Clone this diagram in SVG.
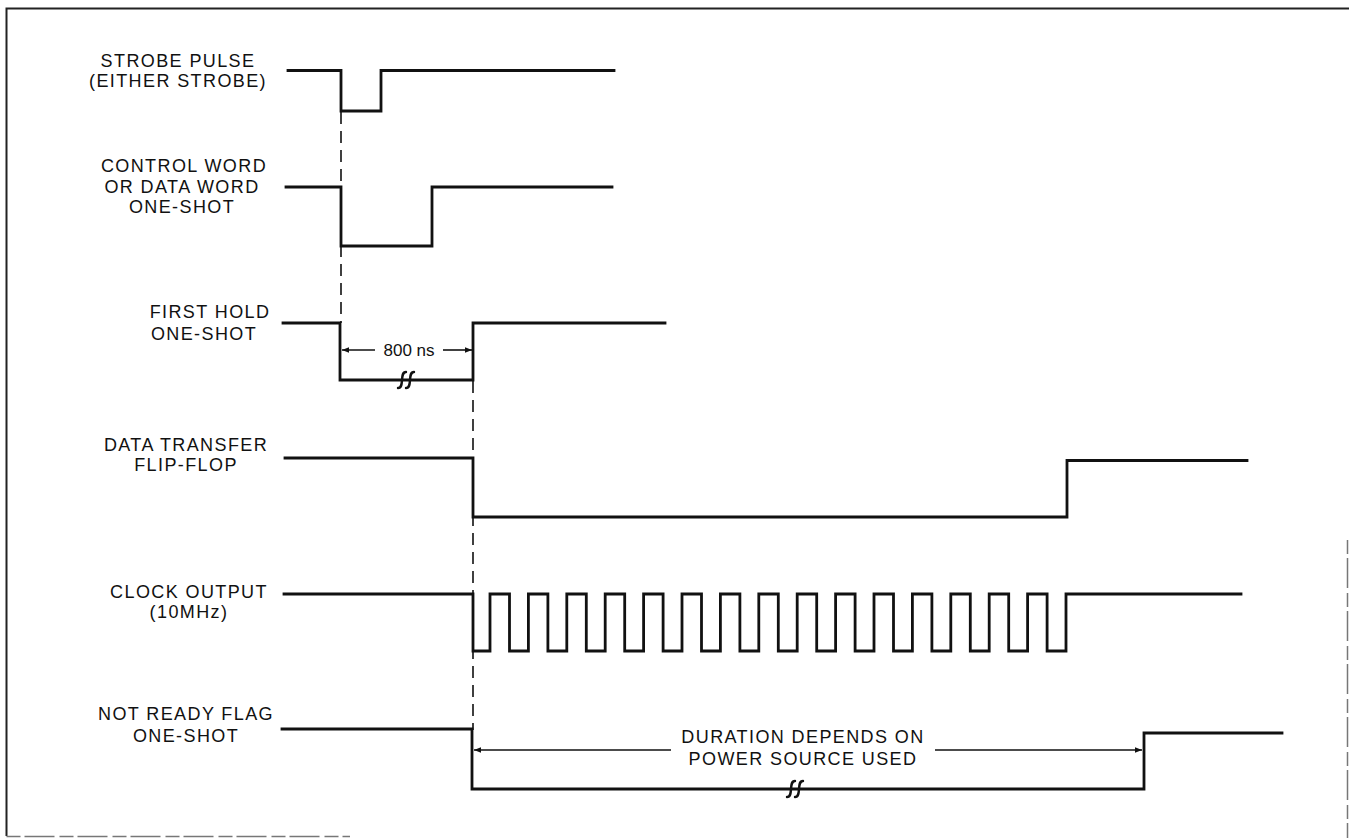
<svg xmlns="http://www.w3.org/2000/svg" width="1349" height="838" viewBox="0 0 1349 838">
<defs>
<style>
.bg{fill:#fff}
.frame{fill:none;stroke:#222;stroke-width:2}
.frame2{fill:none;stroke:#777;stroke-width:1.5;stroke-dasharray:14 4 30 5}
.wave{fill:none;stroke:#111;stroke-width:2.8;stroke-linejoin:miter;stroke-linecap:square}
.dash{fill:none;stroke:#111;stroke-width:1.6;stroke-dasharray:12 7}
.dim{fill:none;stroke:#111;stroke-width:1.6}
.brk{fill:none;stroke:#111;stroke-width:2.4;stroke-linecap:round}
.lbl{font-family:"Liberation Sans",Arial,sans-serif;font-size:18px;letter-spacing:1.4px;fill:#111;text-anchor:middle}
.dimt{font-family:"Liberation Sans",Arial,sans-serif;font-size:17px;fill:#111;text-anchor:middle}
</style>
<marker id="ah" viewBox="0 0 10 10" refX="10" refY="5" markerWidth="7" markerHeight="7" markerUnits="userSpaceOnUse" orient="auto-start-reverse">
<path d="M0,1 L10,5 L0,9 Z" fill="#111"/>
</marker>
</defs>
<rect class="bg" x="0" y="0" width="1349" height="838"/>
<g id="frame">
<path class="frame" d="M6.5,836 V8.5 H1349"/>
<path class="frame2" d="M1347.5,540 V838"/>
<path class="frame2" d="M6.5,836.5 H350"/>
</g>
<g id="strobe">
<text class="lbl" x="178" y="67">STROBE PULSE</text>
<text class="lbl" x="178" y="87">(EITHER STROBE)</text>
<path class="wave" d="M288,70.5 H341 V111 H381 V70.5 H614"/>
</g>
<g id="control-word">
<text class="lbl" x="184" y="172">CONTROL WORD</text>
<text class="lbl" x="182" y="193">OR DATA WORD</text>
<text class="lbl" x="182" y="213">ONE-SHOT</text>
<path class="wave" d="M286,187 H341 V246 H432 V187 H612"/>
</g>
<g id="first-hold">
<text class="lbl" x="210" y="318">FIRST HOLD</text>
<text class="lbl" x="204" y="340">ONE-SHOT</text>
<path class="wave" d="M283,323 H340 V380 H473 V323 H665"/>
</g>
<g id="data-transfer">
<text class="lbl" x="186" y="451">DATA TRANSFER</text>
<text class="lbl" x="186" y="471">FLIP-FLOP</text>
<path class="wave" d="M285,458 H473 V517 H1067 V460.5 H1247"/>
</g>
<g id="clock-output">
<text class="lbl" x="189" y="598">CLOCK OUTPUT</text>
<text class="lbl" x="189" y="618">(10MHz)</text>
<path class="wave" d="M284,594 H473 V651 H490 V594 H509.5 V651 H528.4 V594 H547.9 V651 H566.8 V594 H586.3 V651 H605.2 V594 H624.7 V651 H643.6 V594 H663.1 V651 H682 V594 H701.5 V651 H720.4 V594 H739.9 V651 H758.8 V594 H778.3 V651 H797.2 V594 H816.7 V651 H835.6 V594 H855.1 V651 H874 V594 H893.5 V651 H912.4 V594 H931.9 V651 H950.8 V594 H970.3 V651 H989.2 V594 H1008.7 V651 H1027.6 V594 H1047.1 V651 H1066 V594 H1241"/>
</g>
<g id="not-ready">
<text class="lbl" x="186" y="720">NOT READY FLAG</text>
<text class="lbl" x="186" y="742">ONE-SHOT</text>
<path class="wave" d="M282,729 H472 V789 H1144 V733 H1282"/>
</g>
<g id="connectors">
<path class="dash" d="M341,112 V323"/>
<path class="dash" d="M473,381 V730"/>
<path class="dim" d="M342,350 H375" marker-start="url(#ah)"/>
<path class="dim" d="M443,350 H472" marker-end="url(#ah)"/>
<text class="dimt" x="409" y="356">800 ns</text>
<path class="brk" d="M406,372 C399,372 405,388 398,388 M414,372 C407,372 413,388 406,388"/>
<path class="dim" d="M474,750 H671" marker-start="url(#ah)"/>
<path class="dim" d="M935,750 H1142" marker-end="url(#ah)"/>
<text class="lbl" x="803" y="743">DURATION DEPENDS ON</text>
<text class="lbl" x="803" y="765">POWER SOURCE USED</text>
<path class="brk" d="M795,781 C788,781 794,797 787,797 M803,781 C796,781 802,797 795,797"/>
</g>
</svg>
